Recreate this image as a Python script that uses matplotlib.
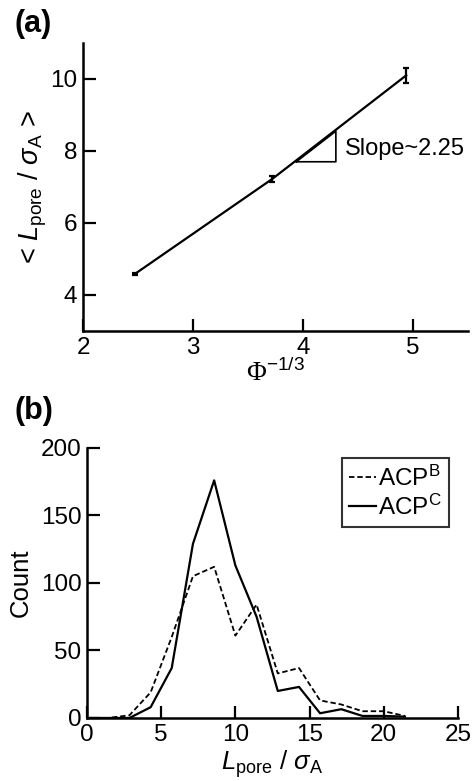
import matplotlib
matplotlib.use("Agg")
import matplotlib.pyplot as plt

plt.rcParams['font.family'] = ['Liberation Sans', 'DejaVu Sans']
plt.rcParams['mathtext.fontset'] = 'custom'
plt.rcParams['mathtext.rm'] = 'Liberation Sans'
plt.rcParams['mathtext.it'] = 'Liberation Sans:italic'
plt.rcParams['mathtext.bf'] = 'Liberation Sans:bold'
plt.rcParams['mathtext.sf'] = 'Liberation Serif'

# (a) mean pore length vs Phi^(-1/3)
phi_x = [2.47, 3.72, 4.94]
lpore_mean = [4.58, 7.22, 10.1]
lpore_err = [0.035, 0.09, 0.2]
slope_x = [3.94, 4.30, 4.30]
slope_y = [7.70, 7.70, 8.55]

# (b) pore length histogram
bin_x = [0, 1.43, 2.86, 4.29, 5.71, 7.14, 8.57, 10.0, 11.43, 12.86,
         14.29, 15.71, 17.14, 18.57, 20.0, 21.43]
count_b = [0, 0, 2, 19, 60, 105, 112, 61, 84, 33, 37, 13, 10, 5, 5, 1.5]
count_c = [0, 0, 0, 8, 37, 129, 176, 113, 75, 20, 23, 3.5, 6.5, 1.5, 1.5, 1]

fs = 17.5
lfs = 18.5
fig = plt.figure(figsize=(4.73, 7.81), dpi=100)

def style(ax):
    for s in ['top', 'right']:
        ax.spines[s].set_visible(False)
    for s in ['left', 'bottom']:
        ax.spines[s].set_linewidth(1.8)
    ax.tick_params(direction='in', length=9, width=1.6, labelsize=fs, pad=4)

ax1 = fig.add_axes([0.1755, 0.5762, 0.8135, 0.3688])
ax1.errorbar(phi_x, lpore_mean, yerr=lpore_err, color='black', lw=1.6,
             capsize=2, elinewidth=1.6, capthick=1.6)
ax1.plot(slope_x + [slope_x[0]], slope_y + [slope_y[0]], color='black', lw=1.2)
ax1.text(4.38, 8.05, 'Slope~2.25', fontsize=17, va='center', ha='left')
ax1.set_xlim(2, 5.5)
ax1.set_ylim(3, 11)
ax1.set_xticks([2, 3, 4, 5])
ax1.set_yticks([4, 6, 8, 10])
style(ax1)
ax1.set_xlabel(r'$\mathsf{\Phi}^{-1/3}$', fontsize=lfs + 1, labelpad=0)
ax1.set_ylabel(r'< $L_\mathregular{pore}$ / $\sigma_\mathregular{A}$ >', fontsize=lfs + 1, labelpad=1)

ax2 = fig.add_axes([0.184, 0.0807, 0.784, 0.3457])
ax2.plot(bin_x, count_b, color='black', lw=1.3, ls=(0, (3, 1.6)), label=r'ACP$^\mathregular{B}$')
ax2.plot(bin_x, count_c, color='black', lw=1.6, label=r'ACP$^\mathregular{C}$')
ax2.set_xlim(0, 25)
ax2.set_ylim(0, 200)
ax2.set_xticks([0, 5, 10, 15, 20, 25])
ax2.set_yticks([0, 50, 100, 150, 200])
style(ax2)
ax2.set_xlabel(r'$L_\mathregular{pore}$ / $\sigma_\mathregular{A}$', fontsize=lfs, labelpad=2)
ax2.set_ylabel('Count', fontsize=lfs, labelpad=6)
leg = ax2.legend(loc='upper right', bbox_to_anchor=(0.99, 0.98), fontsize=fs,
                 frameon=True, fancybox=False, edgecolor='black',
                 handlelength=1.1, handletextpad=0.1, borderpad=0.3,
                 labelspacing=0.15, borderaxespad=0.2)
leg.get_frame().set_linewidth(1.5)

fig.text(0.03, 0.988, '(a)', fontsize=22, fontweight='bold', va='top')
fig.text(0.03, 0.493, '(b)', fontsize=22, fontweight='bold', va='top')

fig.savefig('out.png', dpi=100)
